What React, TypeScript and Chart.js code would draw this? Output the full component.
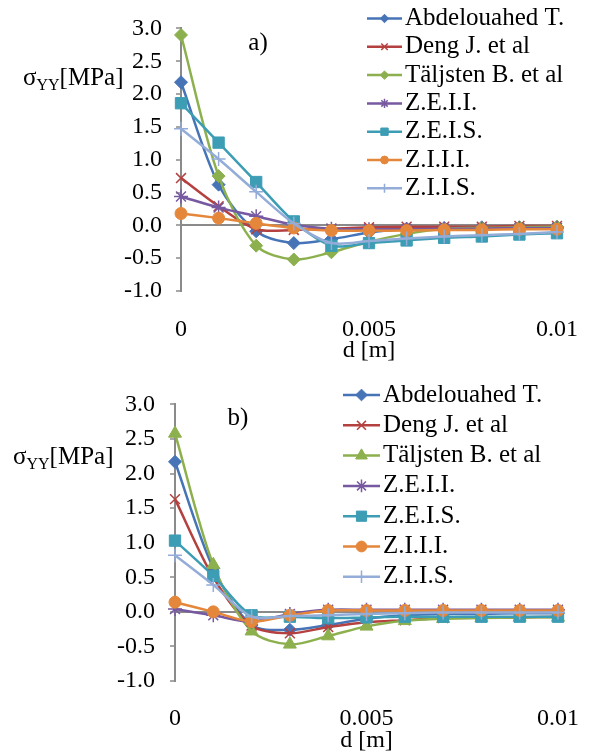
import React, { useEffect, useRef } from 'react';
import { Chart, registerables } from 'chart.js';
import { drawPoint } from 'chart.js/helpers';

Chart.register(...registerables);

const FONT = '"Liberation Serif", "Times New Roman", serif';
const GRAY = '#8a8a8a';

// ---- shared data ----
const distances = [0, 0.001, 0.002, 0.003, 0.004, 0.005, 0.006, 0.007, 0.008, 0.009, 0.01];
const xTicks = [0, 0.005, 0.01];
const yTicks = [-1, -0.5, 0, 0.5, 1, 1.5, 2, 2.5, 3];
const seriesNames = ['Abdelouahed T.', 'Deng J. et al', 'Täljsten B. et al', 'Z.E.I.I.', 'Z.E.I.S.', 'Z.I.I.I.', 'Z.I.I.S.'];
const seriesColors = ['#4674B6', '#B4413F', '#8DB04E', '#7659A0', '#3C9DB5', '#E5873B', '#93ACD8'];

// ---- panel a) ----
const aAbdelouahed = [2.18, 0.62, -0.09, -0.27, -0.21, -0.11, -0.05, -0.04, -0.03, -0.03, -0.02];
const aDeng = [0.72, 0.29, -0.06, -0.07, -0.05, -0.03, -0.02, -0.02, -0.02, -0.01, -0.01];
const aTaljsten = [2.9, 0.75, -0.31, -0.52, -0.41, -0.25, -0.13, -0.05, -0.04, -0.03, -0.02];
const aZEII = [0.44, 0.27, 0.14, 0.01, -0.05, -0.06, -0.06, -0.05, -0.05, -0.04, -0.04];
const aZEIS = [1.86, 1.26, 0.66, 0.06, -0.31, -0.27, -0.23, -0.19, -0.17, -0.14, -0.12];
const aZIII = [0.18, 0.11, 0.03, -0.04, -0.08, -0.08, -0.08, -0.07, -0.07, -0.06, -0.06];
const aZIIS = [1.47, 1.01, 0.51, 0.03, -0.27, -0.24, -0.2, -0.17, -0.15, -0.13, -0.1];

// ---- panel b) ----
const bAbdelouahed = [2.17, 0.63, -0.19, -0.26, -0.19, -0.1, -0.05, -0.03, -0.03, -0.02, -0.02];
const bDeng = [1.63, 0.5, -0.2, -0.31, -0.22, -0.15, -0.12, -0.09, -0.08, -0.08, -0.07];
const bTaljsten = [2.58, 0.68, -0.28, -0.47, -0.35, -0.21, -0.13, -0.1, -0.09, -0.08, -0.08];
const bZEII = [0.04, -0.05, -0.14, -0.03, 0.03, 0.03, 0.03, 0.03, 0.03, 0.03, 0.03];
const bZEIS = [1.03, 0.52, -0.05, -0.07, -0.09, -0.08, -0.07, -0.07, -0.07, -0.07, -0.07];
const bZIII = [0.14, 0.0, -0.14, -0.05, 0.02, 0.02, 0.02, 0.02, 0.02, 0.02, 0.02];
const bZIIS = [0.82, 0.39, -0.07, -0.06, -0.05, -0.03, -0.02, -0.01, -0.01, -0.01, -0.01];

const aStyles = ['rectRot', 'crossRot', 'rectRot', 'star', 'rect', 'circle', 'cross'];
const bStyles = ['rectRot', 'crossRot', 'triangle', 'star', 'rect', 'circle', 'cross'];

const radiusFor: Record<string, number> = {
  rectRot: 6.5, crossRot: 7, triangle: 7.5, star: 7, rect: 8, circle: 6, cross: 7,
};
const lineStyles = ['crossRot', 'star', 'cross'];
const bwFor = (s: string) => (lineStyles.includes(s) ? 1.5 : 1);

type Spec = {
  tag: string;
  series: number[][];
  styles: string[];
  top: number;
  height: number;
  padTop: number;
  padRight: number;
  axisLeft: number;
  axisBottom: number;
  xTickPad: number;
  yTickPad: number;
  titlePad: number;
  legX1: number;
  legX2: number;
  legTextX: number;
  legY0: number;
  legDy: number;
  legScale: number;
  tagX: number;
  tagY: number;
  labX: number;
  labY: number;
};

const panelA: Spec = {
  tag: 'a)',
  series: [aAbdelouahed, aDeng, aTaljsten, aZEII, aZEIS, aZIII, aZIIS],
  styles: aStyles,
  top: 0, height: 370,
  padTop: 23, padRight: 30, axisLeft: 181, axisBottom: 79,
  xTickPad: 24, yTickPad: 14, titlePad: 5,
  legX1: 367, legX2: 402, legTextX: 405, legY0: 18.5, legDy: 28.3, legScale: 0.65,
  tagX: 258, tagY: 43, labX: 23, labY: 85,
};

const panelB: Spec = {
  tag: 'b)',
  series: [bAbdelouahed, bDeng, bTaljsten, bZEII, bZEIS, bZIII, bZIIS],
  styles: bStyles,
  top: 375, height: 380,
  padTop: 22, padRight: 37, axisLeft: 175, axisBottom: 74,
  xTickPad: 23, yTickPad: 15, titlePad: 0,
  legX1: 343, legX2: 380, legTextX: 383, legY0: 20, legDy: 30.3, legScale: 0.9,
  tagX: 238, tagY: 43, labX: 13, labY: 89,
};

function makeOverlay(spec: Spec) {
  return {
    id: 'overlay',
    afterDraw(chart: any) {
      const ctx: CanvasRenderingContext2D = chart.ctx;
      ctx.save();
      // legend
      seriesNames.forEach((name, i) => {
        const y = spec.legY0 + i * spec.legDy;
        const c = seriesColors[i];
        const st = spec.styles[i];
        ctx.strokeStyle = c;
        ctx.fillStyle = c;
        ctx.lineWidth = 2.5;
        ctx.beginPath();
        ctx.moveTo(spec.legX1, y);
        ctx.lineTo(spec.legX2, y);
        ctx.stroke();
        ctx.lineWidth = bwFor(st);
        drawPoint(ctx, { pointStyle: st, radius: radiusFor[st] * spec.legScale, rotation: 0, borderWidth: bwFor(st) } as any, (spec.legX1 + spec.legX2) / 2, y);
        ctx.fillStyle = '#000';
        ctx.font = `25px ${FONT}`;
        ctx.textAlign = 'left';
        ctx.textBaseline = 'middle';
        ctx.fillText(name, spec.legTextX, y);
      });
      // panel tag
      ctx.fillStyle = '#000';
      ctx.font = `25px ${FONT}`;
      ctx.textAlign = 'center';
      ctx.textBaseline = 'middle';
      ctx.fillText(spec.tag, spec.tagX, spec.tagY);
      // y label σYY[MPa]
      ctx.textAlign = 'left';
      ctx.textBaseline = 'alphabetic';
      let x = spec.labX;
      ctx.font = `25px ${FONT}`;
      ctx.fillText('σ', x, spec.labY);
      x += ctx.measureText('σ').width;
      ctx.font = `16px ${FONT}`;
      ctx.fillText('YY', x, spec.labY + 5);
      x += ctx.measureText('YY').width;
      ctx.font = `25px ${FONT}`;
      ctx.fillText('[MPa]', x, spec.labY);
      ctx.restore();
    },
  };
}

function Panel({ spec }: { spec: Spec }) {
  const ref = useRef<HTMLCanvasElement>(null);
  useEffect(() => {
    const datasets = spec.series.map((vals, i) => {
      const st = spec.styles[i];
      return {
        label: seriesNames[i],
        data: distances.map((x, j) => ({ x, y: vals[j] })),
        borderColor: seriesColors[i],
        backgroundColor: seriesColors[i],
        borderWidth: 2.5,
        pointStyle: st,
        pointRadius: radiusFor[st],
        pointBorderWidth: bwFor(st),
        pointBackgroundColor: seriesColors[i],
        pointBorderColor: seriesColors[i],
        tension: 0.3,
        clip: false,
        order: 7 - i,
      };
    });
    const chart = new Chart(ref.current as HTMLCanvasElement, {
      type: 'line',
      data: { datasets } as any,
      options: {
        animation: false,
        responsive: false,
        maintainAspectRatio: false,
        events: [],
        layout: { padding: { top: spec.padTop, right: spec.padRight, left: 0, bottom: 0 } },
        plugins: { legend: { display: false }, tooltip: { enabled: false } },
        scales: {
          x: {
            type: 'linear',
            min: 0,
            max: 0.01,
            afterBuildTicks: (s: any) => { s.ticks = xTicks.map((v) => ({ value: v })); },
            ticks: {
              callback: (v: any) => String(Math.round(Number(v) * 10000) / 10000),
              font: { family: FONT, size: 24 },
              color: '#000',
              padding: spec.xTickPad,
              maxRotation: 0,
              autoSkip: false,
            },
            grid: { display: false, drawTicks: false },
            border: { display: false },
            title: {
              display: true,
              text: 'd [m]',
              font: { family: FONT, size: 24 },
              color: '#000',
              padding: { top: 0, bottom: spec.titlePad },
            },
            afterFit: (s: any) => { s.height = spec.axisBottom; },
          },
          y: {
            min: -1,
            max: 3,
            afterBuildTicks: (s: any) => { s.ticks = yTicks.map((v) => ({ value: v })); },
            ticks: {
              callback: (v: any) => Number(v).toFixed(1),
              font: { family: FONT, size: 24 },
              color: '#000',
              padding: spec.yTickPad,
            },
            grid: {
              color: (c: any) => (c.tick && c.tick.value === 0 ? GRAY : 'rgba(0,0,0,0)'),
              lineWidth: 2,
              tickColor: GRAY,
              tickLength: 5,
              tickWidth: 1.5,
              drawTicks: true,
            },
            border: { display: true, color: GRAY, width: 2 },
            afterFit: (s: any) => { s.width = spec.axisLeft; },
          },
        },
      } as any,
      plugins: [makeOverlay(spec)],
    });
    return () => chart.destroy();
  }, []);
  return (
    <div style={{ position: 'absolute', left: 0, top: spec.top, width: 602, height: spec.height }}>
      <canvas ref={ref} width={602} height={spec.height} style={{ display: 'block' }} />
    </div>
  );
}

export default function App() {
  return (
    <div style={{ position: 'absolute', left: 0, top: 0, width: 602, height: 755, background: '#fff' }}>
      <Panel spec={panelA} />
      <Panel spec={panelB} />
    </div>
  );
}
